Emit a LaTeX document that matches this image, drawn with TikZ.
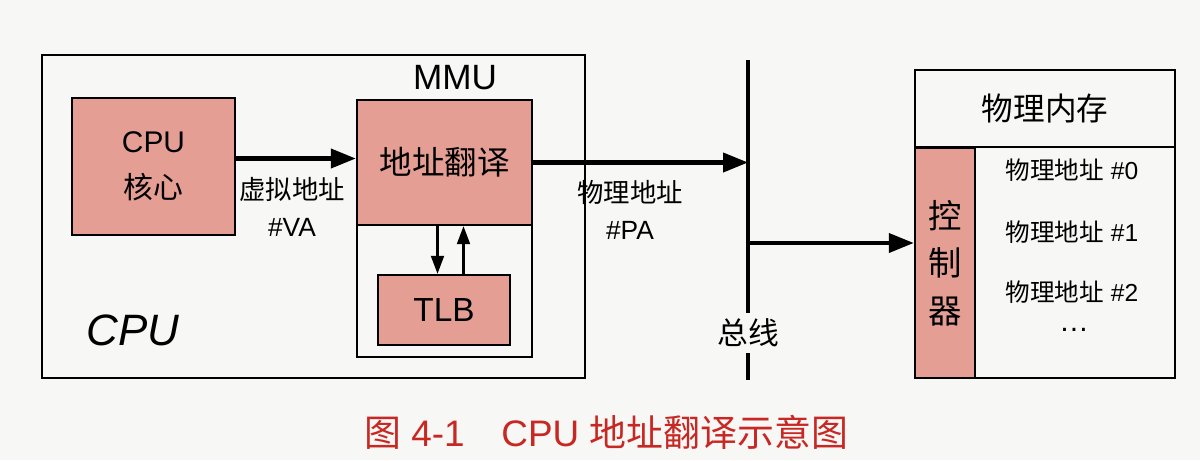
\documentclass[tikz,border=0pt]{standalone}
\usepackage{fontspec}
\setmainfont{Liberation Sans}
\newfontfamily\cjk{Noto Sans CJK SC}
\usepackage{xcolor}
\usepackage{tikz}
\usetikzlibrary{arrows.meta,positioning,calc}
\definecolor{boxpink}{RGB}{228,158,148}
\definecolor{captionred}{RGB}{200,40,36}
\definecolor{paper}{RGB}{247,247,245}
\newcommand{\setfs}[2]{\fontsize{#1}{#2}\selectfont}

\begin{document}
\begin{tikzpicture}[x=0.02cm, y=-0.02cm,
    box/.style={draw, line width=1.4pt, inner sep=0pt},
    pinkbox/.style={box, fill=boxpink, align=center},
    arr/.style={-{Triangle[length=5mm,width=3.8mm]}, line width=2.3pt},
    smallarr/.style={-{Triangle[length=3.6mm,width=2.6mm]}, line width=1.2pt},
    lbl/.style={align=center, font=\setfs{15}{21}}]
    % Page
    \fill[paper] (0,0) rectangle (1200,460);
    \useasboundingbox (0,0) rectangle (1200,460);
    % CPU
    \node[box, minimum width=10.86cm, minimum height=6.46cm] (cpu) at (313.5,216.5) {};
    \node[font=\setfs{25}{30}\itshape] (cpulabel) at (133,330) {CPU};
    \node[pinkbox, minimum width=3.26cm, minimum height=2.74cm, font=\setfs{17}{26}] (core) at (153.5,166.5) {CPU\\{\cjk 核心}};
    % MMU
    \node[box, line width=0.8pt, minimum width=3.5cm, minimum height=5.14cm] (mmu) at (444.5,228.5) {};
    \node[font=\setfs{20}{24}] (mmulabel) at (455,78) {MMU};
    \node[pinkbox, minimum width=3.5cm, minimum height=2.5cm, font=\setfs{18.5}{22}\cjk] (trans) at (444.5,162.5) {地址翻译};
    \node[pinkbox, minimum width=2.64cm, minimum height=1.4cm, font=\setfs{19}{23}] (tlb) at (444,310) {TLB};
    \draw[smallarr] ([xshift=-0.14cm]trans.south) -- ([xshift=-0.14cm]trans.south |- tlb.north);
    \draw[smallarr] ([xshift=0.38cm]trans.south |- tlb.north) -- ([xshift=0.38cm]trans.south);
    % Bus
    \coordinate (bustop) at (748,60);
    \coordinate (busbot) at (748,380);
    \node[font=\setfs{17.5}{21}\cjk] (buslabel) at (748,333) {总线};
    \draw[line width=2.3pt] (bustop) -- (buslabel.north);
    \draw[line width=2.3pt] (buslabel.south) -- (busbot);
    % Memory
    \node[box, minimum width=5.2cm, minimum height=6.16cm] (mem) at (1045,224) {};
    \node[pinkbox, minimum width=1.2cm, minimum height=4.6cm, font=\setfs{19}{27}\cjk] (ctrl) at (945,263) {控\\制\\器};
    \draw[line width=1.4pt] (mem.west |- ctrl.north) -- (mem.east |- ctrl.north);
    \node[font=\setfs{18}{22}\cjk] (memtitle) at (1045,109) {物理内存};
    \foreach \i/\y in {0/170,1/232,2/292}
        \node[font=\setfs{14}{17}] (addr\i) at (1072,\y) {{\cjk 物理地址} \#\i};
    \node[font=\setfs{17}{20}] (addrdots) at (1074,330) {\textellipsis};
    % Address flow
    \draw[arr] ([yshift=0.08cm]core.east |- trans.west) -- ([yshift=0.08cm]trans.west);
    \node[lbl] (va) at (292,207) {{\cjk 虚拟地址}\\\#VA};
    \draw[arr] (trans.east) -- (trans.east -| bustop);
    \node[lbl] (pa) at (630,210) {{\cjk 物理地址}\\\#PA};
    \coordinate (tap) at (748,243);
    \draw[arr] (tap) -- (tap -| ctrl.west);
    % Caption
    \node[text=captionred, font=\setfs{21}{25}] (caption) at (606,432) {{\cjk 图} 4-1\quad CPU {\cjk 地址翻译示意图}};
\end{tikzpicture}
\end{document}
